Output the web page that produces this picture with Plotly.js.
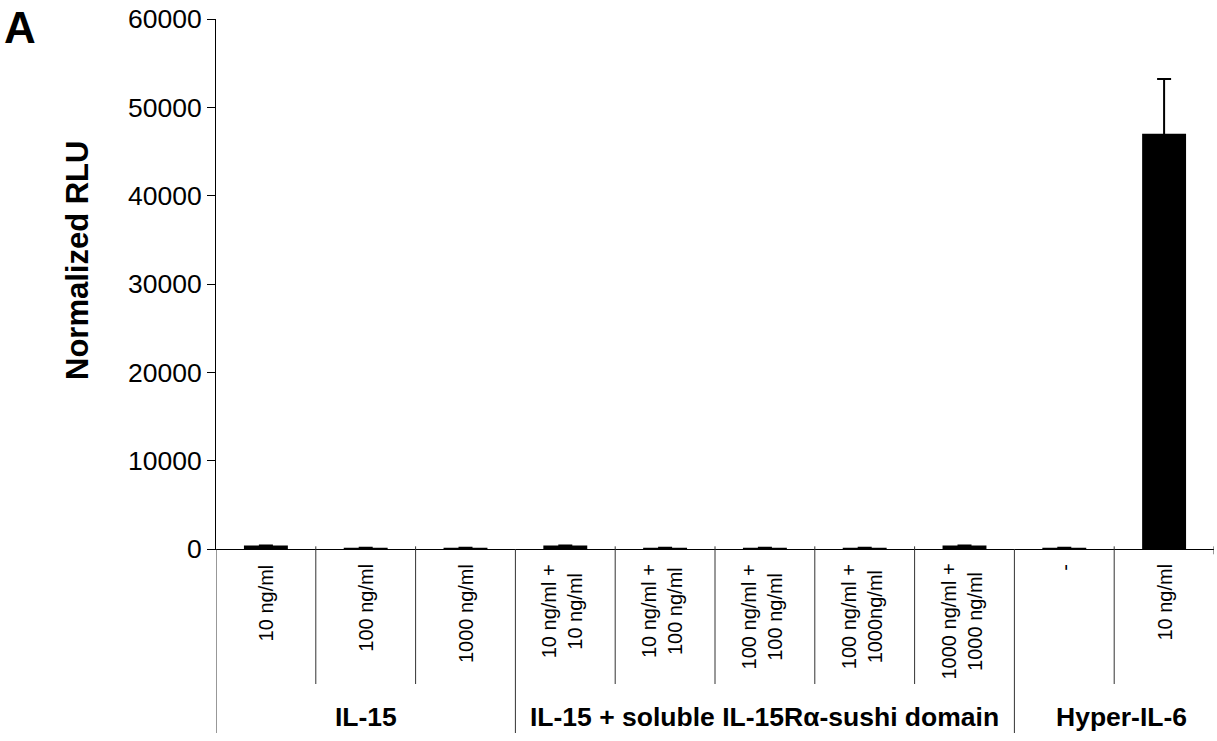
<!DOCTYPE html>
<html>
<head>
<meta charset="utf-8">
<script src="https://cdn.plot.ly/plotly-3.0.1.min.js"></script>
<style>html,body{margin:0;padding:0;background:#fff;}#chart{width:1217px;height:741px;}</style>
</head>
<body>
<div id="chart"></div>
<script>
// ---- data ----
var labelLine1 = ["10 ng/ml", "100 ng/ml", "1000 ng/ml", "10 ng/ml +", "10 ng/ml +", "100 ng/ml +", "100 ng/ml +", "1000 ng/ml +", "-", "10 ng/ml"];
var labelLine2 = ["", "", "", "10 ng/ml", "100 ng/ml", "100 ng/ml", "1000ng/ml", "1000 ng/ml", "", ""];
var values = [400, 150, 150, 400, 150, 150, 150, 400, 150, 47000];
var errors = [null, null, null, null, null, null, null, null, null, 6200];
var groupNames = ["IL-15", "IL-15 + soluble IL-15R\u03b1-sushi domain", "Hyper-IL-6"];
var groupStart = [0, 3, 8];
var groupEnd = [2, 7, 9];
var yTickVals = [0, 10000, 20000, 30000, 40000, 50000, 60000];

var FONT = "Arial, 'Liberation Sans', sans-serif";
var idx = values.map(function (v, i) { return i; });

var trace = {
  type: "bar",
  x: idx,
  y: values,
  width: 0.44,
  marker: { color: "#000000", line: { width: 0 } },
  error_y: {
    type: "data", symmetric: true, array: errors,
    color: "#000000", thickness: 2, width: 7, visible: true
  },
  hoverinfo: "none"
};

var annotations = [];
var shapes = [];

// category labels
idx.forEach(function (i) {
  var txt = labelLine2[i] ? labelLine1[i] + "<br>" + labelLine2[i] : labelLine1[i];
  annotations.push({
    xref: "x", yref: "paper", x: i, y: 0, yshift: -13,
    xshift: labelLine2[i] ? -3 : 0,
    text: txt, textangle: -90, showarrow: false,
    xanchor: "center", yanchor: "top", align: "center",
    font: { family: FONT, size: 20, color: "#000" }
  });
});

// divider lines
var minorBottom = (549 - 684) / 530;
var majorBottom = (549 - 733) / 530;
var majorAt = {};
groupStart.forEach(function (s) { majorAt[s - 0.5] = true; });
for (var k = 0; k <= values.length; k++) {
  var xv = k - 0.5;
  var isMajor = majorAt[xv] || k === 0;
  var isEnd = k === values.length;
  shapes.push({
    type: "line", xref: "x", yref: "paper",
    x0: xv, x1: xv, y0: isMajor ? 0 : 0.005, y1: isMajor ? majorBottom : (isEnd ? -0.01 : minorBottom),
    line: { color: "#333", width: 1 }
  });
}

// group labels
groupNames.forEach(function (g, j) {
  annotations.push({
    xref: "x", yref: "paper", x: (groupStart[j] + groupEnd[j]) / 2, y: (549 - 717) / 530,
    xshift: j === groupNames.length - 1 ? 7 : 0,
    text: "<b>" + g + "</b>", showarrow: false, xanchor: "center", yanchor: "middle",
    font: { family: FONT, size: 26.5, color: "#000" }
  });
});

// y-axis title
annotations.push({
  xref: "paper", yref: "paper", x: (77 - 216) / 998, y: (549 - 261) / 530,
  text: "<b>Normalized RLU</b>", textangle: -90, showarrow: false,
  xanchor: "center", yanchor: "middle",
  font: { family: FONT, size: 31, color: "#000" }
});

// panel letter
annotations.push({
  xref: "paper", yref: "paper", x: (2 - 216) / 998, y: (549 - 27) / 530,
  text: "<b>A</b>", showarrow: false, xanchor: "left", yanchor: "middle",
  font: { family: FONT, size: 44, color: "#000" }
});

var layout = {
  width: 1217, height: 741,
  margin: { l: 216, r: 3, t: 19, b: 192 },
  paper_bgcolor: "#fff", plot_bgcolor: "#fff",
  showlegend: false,
  xaxis: {
    range: [-0.5, 9.5], showticklabels: false, ticks: "",
    showline: true, linecolor: "#000", linewidth: 1,
    showgrid: false, zeroline: false, fixedrange: true
  },
  yaxis: {
    range: [0, 60000], tickvals: yTickVals, tickformat: "d",
    ticks: "outside", ticklen: 8, tickcolor: "#000", tickwidth: 1,
    ticklabelstandoff: 0,
    showline: true, linecolor: "#000", linewidth: 1,
    showgrid: false, zeroline: false, fixedrange: true,
    tickfont: { family: FONT, size: 26.5, color: "#000" }
  },
  annotations: annotations,
  shapes: shapes
};

Plotly.newPlot("chart", [trace], layout, { staticPlot: true, displayModeBar: false });
</script>
</body>
</html>
